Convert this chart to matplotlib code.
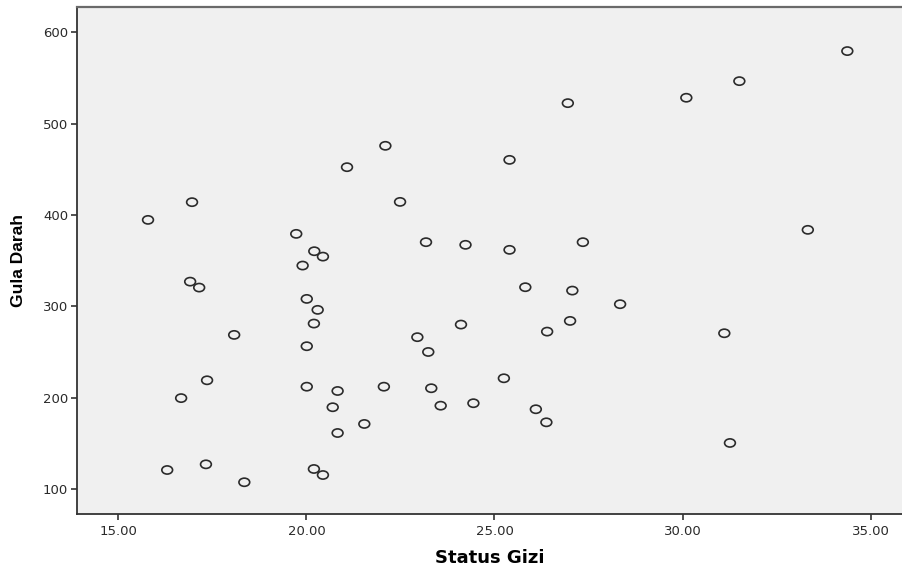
import matplotlib
matplotlib.use('Agg')
import matplotlib.pyplot as plt
from matplotlib.path import Path
from matplotlib.transforms import Affine2D

# Status Gizi (x) vs Gula Darah (y)
status_gizi = [
    15.79, 16.96, 16.91, 17.15, 18.08, 17.36, 16.67, 16.30, 17.33, 18.35,
    26.95, 22.10, 21.08, 25.40, 22.49, 19.73, 20.21, 20.44, 19.90, 23.18,
    24.23, 25.40, 27.35, 25.82, 27.07, 20.01, 20.30, 20.20, 20.01, 20.01,
    20.83, 20.70, 20.83, 21.54, 22.06, 20.20, 20.44, 22.95, 23.24, 24.11,
    23.32, 23.57, 24.44, 25.25, 26.10, 26.38, 26.40, 27.01, 34.38, 31.51,
    30.10, 33.33, 28.34, 31.11, 31.26,
]
gula_darah = [
    394.6, 414.0, 327.0, 320.5, 268.7, 219.0, 199.5, 120.8, 127.0, 107.4,
    522.4, 475.7, 452.3, 460.3, 414.3, 379.3, 360.3, 354.4, 344.6, 370.2,
    367.3, 361.8, 370.2, 320.9, 317.2, 308.1, 296.1, 281.1, 256.3, 212.0,
    207.3, 189.5, 161.3, 171.2, 212.0, 121.9, 115.3, 266.2, 250.0, 280.0,
    210.3, 191.2, 193.9, 221.2, 187.3, 173.0, 272.3, 284.0, 579.4, 546.5,
    528.3, 383.7, 302.3, 270.5, 150.4,
]
x_ticks = [15, 20, 25, 30, 35]
y_ticks = [100, 200, 300, 400, 500, 600]

plt.rcParams['font.family'] = ['DejaVu Sans']

fig = plt.figure(figsize=(9.03, 5.71), dpi=100)
ax = fig.add_axes([0.0856, 0.0993, 0.9144, 0.889])
ax.set_facecolor('#F0F0F0')

# slightly squashed circle, like the SPSS marker
oval = Path.unit_circle().transformed(Affine2D().scale(1.0, 0.76))
ax.scatter(status_gizi, gula_darah, marker=oval, s=60,
           facecolors='none', edgecolors='#2b2b2b', linewidths=1.2, zorder=3)

ax.set_xlim(13.91, 35.86)
ax.set_ylim(72.3, 628)
ax.set_xticks(x_ticks)
ax.set_xticklabels([f'{v:.2f}' for v in x_ticks])
ax.set_yticks(y_ticks)
ax.set_yticklabels([str(v) for v in y_ticks])

for side in ('left', 'bottom'):
    ax.spines[side].set_color('#333333')
    ax.spines[side].set_linewidth(1.3)
ax.spines['top'].set_color('#6a6a6a')
ax.spines['top'].set_linewidth(1.6)
ax.spines['right'].set_visible(False)

ax.tick_params(axis='both', direction='out', length=4.5, width=1.2,
               colors='#333333', labelsize=9.5, labelcolor='#2a2a2a')
ax.tick_params(axis='x', pad=3)
ax.tick_params(axis='y', pad=2)

ax.set_xlabel('Status Gizi', fontsize=13, fontweight='bold', labelpad=8)
ax.set_ylabel('Gula Darah', fontsize=12.5, fontweight='bold', labelpad=12,
              family=['Liberation Sans'])

plt.savefig('out.png', dpi=100)
plt.close()
